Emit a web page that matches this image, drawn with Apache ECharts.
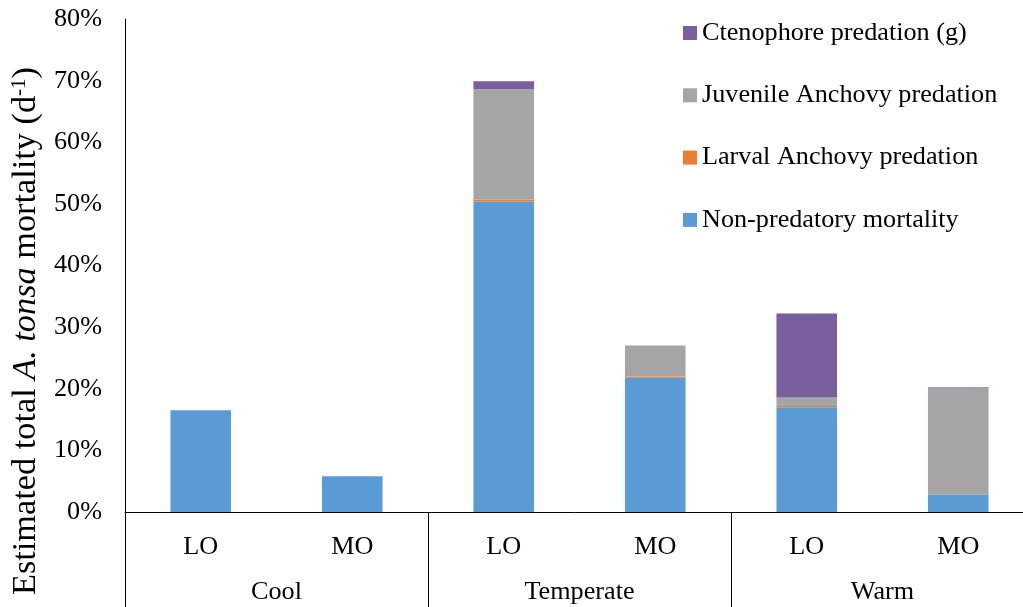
<!DOCTYPE html>
<html><head><meta charset="utf-8">
<script src="https://cdn.jsdelivr.net/npm/echarts@6/dist/echarts.min.js"></script>
<style>html,body{margin:0;padding:0;background:#fff}#c{width:1023px;height:607px}</style>
</head><body><div id="c"></div>
<script>
const subCats = ['LO','MO','LO','MO','LO','MO'];
const groupCats = ['Cool','Temperate','Warm'];
const nonPredatory = [16.5, 5.8, 50.4, 21.8, 17.0, 2.8];
const larvalAnchovy = [0, 0, 0.3, 0.2, 0.2, 0];
const juvenileAnchovy = [0, 0, 17.9, 5.0, 1.4, 17.4];
const ctenophore = [0, 0, 1.3, 0, 13.6, 0.1];
const yTicks = [0, 80, 10];
const FONT = 'Liberation Serif';
const FS = 26.2;

const chart = echarts.init(document.getElementById('c'));
const mk = (name, data, color) => ({
  name, type: 'bar', stack: 'total', data, xAxisIndex: 0,
  barWidth: '40%', itemStyle: {color}, emphasis: {disabled: true}
});
chart.setOption({
  animation: false,
  textStyle: {fontFamily: FONT, color: '#000'},
  grid: {left: 125, top: 19, width: 909, bottom: 95, containLabel: false, outerBoundsMode: 'none'},
  legend: {
    orient: 'vertical', left: 683, top: 20, padding: 0, itemWidth: 14, itemHeight: 14, itemGap: 36.3,
    icon: 'rect',
    data: ['Ctenophore predation (g)', 'Juvenile Anchovy predation', 'Larval Anchovy predation', 'Non-predatory mortality'],
    textStyle: {fontFamily: FONT, fontSize: FS, color: '#000', padding: [0, 0, 0, 0]}
  },
  xAxis: [
    {type: 'category', data: subCats, position: 'bottom',
     axisLine: {show: true, lineStyle: {color: '#000', width: 1}},
     axisTick: {show: false},
     axisLabel: {fontFamily: FONT, fontSize: FS, color: '#000', margin: 22}},
    {type: 'category', data: groupCats, position: 'bottom',
     axisLine: {show: false},
     axisTick: {show: true, length: 95, interval: 0, lineStyle: {color: '#000'}},
     axisLabel: {fontFamily: FONT, fontSize: FS, color: '#000', margin: 67}}
  ],
  yAxis: {
    type: 'value', min: yTicks[0], max: yTicks[1], interval: yTicks[2],
    axisLine: {show: true, lineStyle: {color: '#000'}},
    axisTick: {show: false}, splitLine: {show: false},
    axisLabel: {formatter: '{value}%', fontFamily: FONT, fontSize: FS, color: '#000', margin: 23}
  },
  graphic: [{
    type: 'text', x: 26, y: 331, rotation: Math.PI / 2,
    style: {
      text: '{n|Estimated total }{i|A. tonsa}{n| mortality (d}{s|-1}{n|)}',
      textAlign: 'center', textVerticalAlign: 'middle',
      rich: {
        n: {fontFamily: FONT, fontSize: 34.3, fill: '#000'},
        i: {fontFamily: FONT, fontSize: 34.3, fontStyle: 'italic', fill: '#000'},
        s: {fontFamily: FONT, fontSize: 21, fill: '#000', verticalAlign: 'top', padding: [0, 0, 14, 0]}
      }
    }
  }],
  series: [
    mk('Non-predatory mortality', nonPredatory, '#5B9BD5'),
    mk('Larval Anchovy predation', larvalAnchovy, '#ED7D31'),
    mk('Juvenile Anchovy predation', juvenileAnchovy, '#A5A5A5'),
    mk('Ctenophore predation (g)', ctenophore, '#7A5F9F')
  ]
});
</script></body></html>
